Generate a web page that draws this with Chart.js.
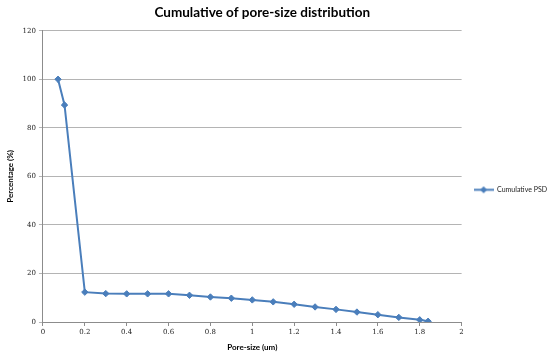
<!DOCTYPE html>
<html><head><meta charset="utf-8">
<script src="https://cdn.jsdelivr.net/npm/chart.js@4/dist/chart.umd.min.js"></script>
<style>html,body{margin:0;padding:0;background:#fff}#wrap{width:557px;height:359px;position:relative}</style>
</head><body><div id="wrap"><canvas id="c"></canvas></div>
<script>
const poreSize = [0.072, 0.103, 0.2, 0.3, 0.4, 0.5, 0.6, 0.7, 0.8, 0.9, 1.0, 1.1, 1.2, 1.3, 1.4, 1.5, 1.6, 1.7, 1.8, 1.84];
const cumulativePSD = [100, 89.4, 12.3, 11.7, 11.6, 11.6, 11.6, 11.0, 10.3, 9.8, 9.1, 8.3, 7.3, 6.2, 5.2, 4.1, 3.0, 1.9, 0.9, 0.3];
const seriesName = 'Cumulative PSD';
const chartTitle = 'Cumulative of pore-size distribution';
const xTitle = 'Pore-size (um)';
const yTitle = 'Percentage (%)';

const blue = '#4a7ebb';

// legend symbol: line with diamond
const sym = document.createElement('canvas');
sym.width = 20; sym.height = 9;
(function(){
  const g = sym.getContext('2d');
  g.strokeStyle = blue; g.lineWidth = 2;
  g.beginPath(); g.moveTo(0, 4.5); g.lineTo(20, 4.5); g.stroke();
  g.fillStyle = blue;
  g.beginPath(); g.moveTo(10, 1); g.lineTo(13.5, 4.5); g.lineTo(10, 8); g.lineTo(6.5, 4.5); g.closePath(); g.fill();
})();

const titleShift = {
  id: 'titleShift',
  afterLayout(chart) {
    if (chart.titleBlock) { chart.titleBlock.right += 20; }
  }
};

new Chart(document.getElementById('c'), {
  type: 'scatter',
  data: {
    datasets: [{
      label: seriesName,
      data: poreSize.map((x, i) => ({x: x, y: cumulativePSD[i]})),
      showLine: true,
      borderColor: blue,
      backgroundColor: blue,
      borderWidth: 2,
      pointBorderWidth: 1,
      pointStyle: 'rectRot',
      pointRadius: 3.2,
      pointHoverRadius: 3.2,
      tension: 0
    }]
  },
  options: {
    responsive: true,
    maintainAspectRatio: false,
    animation: false,
    layout: { padding: { left: 6, right: 0, top: 5, bottom: 7 } },
    plugins: {
      title: {
        display: true, text: chartTitle, fullSize: false,
        color: '#000',
        font: { family: 'Lato', size: 13.5, weight: 'bold' },
        padding: { top: 0, bottom: 9.5 }
      },
      legend: {
        position: 'right',
        title: { display: true, text: ' ', font: { size: 8 }, padding: { top: 13, bottom: 0 } },
        labels: {
          usePointStyle: true,
          pointStyleWidth: 20,
          color: '#222',
          font: { family: 'Lato', size: 7 },
          padding: 12,
          generateLabels: (chart) => [{
            text: seriesName, pointStyle: sym, fillStyle: blue, strokeStyle: blue,
            lineWidth: 0, hidden: false, datasetIndex: 0, fontColor: '#222'
          }]
        }
      },
      tooltip: { enabled: false }
    },
    scales: {
      x: {
        type: 'linear', min: 0, max: 2,
        ticks: { stepSize: 0.2, color: '#222', font: { family: 'DejaVu Serif', size: 7 }, padding: 2, maxRotation: 0,
          callback: v => String(Math.round(v * 10) / 10) },
        grid: { drawOnChartArea: false, drawTicks: true, tickLength: 4, color: '#8c8c8c' },
        border: { color: '#8c8c8c' },
        title: { display: true, text: xTitle, color: '#000', font: { family: 'Lato', size: 8, weight: 'bold' }, padding: { top: 4, bottom: 0 } }
      },
      y: {
        type: 'linear', min: 0, max: 120,
        ticks: { stepSize: 20, color: '#222', font: { family: 'DejaVu Serif', size: 7 }, padding: 3 },
        grid: { color: '#b4b4b4', drawTicks: true, tickLength: 4 },
        border: { color: '#8c8c8c' },
        title: { display: true, text: yTitle, color: '#000', font: { family: 'Lato', size: 8, weight: 'bold' }, padding: { top: 0, bottom: 4 } }
      }
    }
  },
  plugins: [titleShift]
});
</script></body></html>
